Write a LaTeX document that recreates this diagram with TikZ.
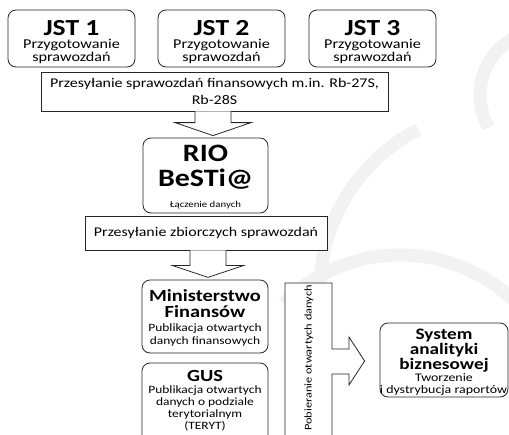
\documentclass[tikz,border=0pt]{standalone}
\usepackage{fontspec}
\setmainfont[FakeStretch=1.2]{Carlito}
\usetikzlibrary{calc}
\newcommand\fJST{\fontsize{23}{22}\selectfont\bfseries}
\newcommand\fSm{\fontsize{13.5}{14}\selectfont}
\newcommand\fBig{\fontsize{13.3}{17}\selectfont}
\newcommand\fRIO{\fontsize{25}{28}\selectfont\bfseries}
\newcommand\fTiny{\fontsize{9}{9}\selectfont}
\newcommand\fHead{\fontsize{17}{21}\selectfont\bfseries}
\newcommand\fBody{\fontsize{11.2}{15}\selectfont}
\newcommand\fPob{\fontsize{10.3}{12}\selectfont}
\newcommand\fSys{\fontsize{16}{14.5}\selectfont\bfseries}
\newcommand\fSysB{\fontsize{11.6}{12.5}\selectfont}
\tikzset{
  rbox/.style={draw=black!85, line width=0.8pt, rounded corners=8pt, inner sep=0pt, fill=white},
  sbox/.style={draw=black!85, line width=0.8pt, align=center, inner sep=0pt, fill=white},
  blk/.style={draw=black!85, line width=0.8pt, fill=white, line join=miter},
  ln/.style={inner sep=0pt, anchor=base},
  wm/.style={draw=black!5, line width=13pt}
}
\begin{document}
\begin{tikzpicture}[x=1pt,y=-1pt]
\useasboundingbox (0,0) rectangle (509,434);
\clip (0,0) rectangle (509,434);
% faint watermark
\draw[wm] (500,290) ++(243:180) arc[start angle=243, end angle=175, radius=180];
\draw[wm] (545,95) ++(250:65) arc[start angle=250, end angle=150, radius=65];
\draw[wm] (400,420) ++(225:165) arc[start angle=225, end angle=330, radius=165];
% top row
\foreach \i/\x in {1/71.5, 2/221.5, 3/372.5}{
  \node[rbox, minimum width=127pt, minimum height=57pt] (jst\i) at (\x,38.5) {};
  \node[ln, font=\fJST] (jst\i a) at (\x,35) {JST \i};
  \node[ln, font=\fSm] (jst\i b) at (\x,48.5) {Przygotowanie};
  \node[ln, font=\fSm] (jst\i c) at (\x,61) {sprawozdań};
}
\node[sbox, minimum width=347pt, minimum height=39pt] (box1) at (214.5,91.5) {};
\node[ln, font=\fBig] (box1a) at (214.5,87) {Przesyłanie sprawozdań finansowych m.in. Rb-27S,};
\node[ln, font=\fBig] (box1b) at (214.5,104.5) {Rb-28S};
% RIO
\node[rbox, minimum width=125pt, minimum height=75pt] (rio) at (205.5,175.5) {};
\node[ln, font=\fRIO] (rioa) at (205.5,161) {RIO};
\node[ln, font=\fRIO] (riob) at (205.5,186) {BeSTi@};
\node[ln, font=\fTiny] (rioc) at (205.5,207) {Łączenie danych};
\node[sbox, minimum width=242pt, minimum height=34pt, font=\fBig] (box2) at (206,233)
  {Przesyłanie zbiorczych sprawozdań};
% arrow 1
\coordinate (a1s) at ($(box1.south)+(-1.5,0)$);
\coordinate (a1e) at ($(rio.north)+(7.5,-2)$);
\draw[blk] ($(a1s)+(-18,0)$) -- ($(a1e)+(-18,-13)$) -- ($(a1e)+(-38,-13)$) -- (a1e)
  -- ($(a1e)+(38,-13)$) -- ($(a1e)+(18,-13)$) -- ($(a1s)+(18,0)$);
% arrow 2
\coordinate (a2s) at ($(box2.south)+(2,0)$);
\coordinate (a2e) at ($(box2.south)+(2,27)$);
\draw[blk] ($(a2s)+(-18,0)$) -- ($(a2e)+(-18,-12)$) -- ($(a2e)+(-36,-12)$) -- (a2e)
  -- ($(a2e)+(36,-12)$) -- ($(a2e)+(18,-12)$) -- ($(a2s)+(18,0)$);
% MF
\node[rbox, minimum width=126pt, minimum height=73pt] (mf) at (205,316.5) {};
\node[ln, font=\fHead] (mfa) at (205,301) {Ministerstwo};
\node[ln, font=\fHead] (mfb) at (205,317) {Finansów};
\node[ln, font=\fBody] (mfc) at (205,331) {Publikacja otwartych};
\node[ln, font=\fBody] (mfd) at (205,344.5) {danych finansowych};
% GUS
\node[rbox, minimum width=126pt, minimum height=90pt] (gus) at (205,408) {};
\node[ln, font=\fHead] (gusa) at (205,381) {GUS};
\node[ln, font=\fBody] (gusb) at (205,393.5) {Publikacja otwartych};
\node[ln, font=\fBody] (gusc) at (205,405.5) {danych o podziale};
\node[ln, font=\fBody] (gusd) at (205,417.5) {terytorialnym};
\node[ln, font=\fBody] (guse) at (205,429.5) {(TERYT)};
% System
\node[rbox, minimum width=128pt, minimum height=74pt] (sys) at (444,360) {};
\node[ln, font=\fSys] (sysa) at (444,339) {System};
\node[ln, font=\fSys] (sysb) at (444,354) {analityki};
\node[ln, font=\fSys] (sysc) at (444,369) {biznesowej};
\node[ln, font=\fSysB] (sysd) at (444,381) {Tworzenie};
\node[ln, font=\fSysB] (syse) at (443.5,393) {i dystrybucja raportów};
% Pobieranie arrow
\coordinate (pe) at ($(sys.west)+(-15,1)$);
\draw[blk] (285,445) -- (285,283) -- (332,283) -- (332,349) -- (349,349) -- (349,337)
  -- (pe) -- (349,385) -- (349,374) -- (332,374) -- (332,445);
\node[inner sep=0pt, rotate=90, font=\fPob] (pob) at (309,358) {Pobieranie otwartych danych};
\end{tikzpicture}
\end{document}
